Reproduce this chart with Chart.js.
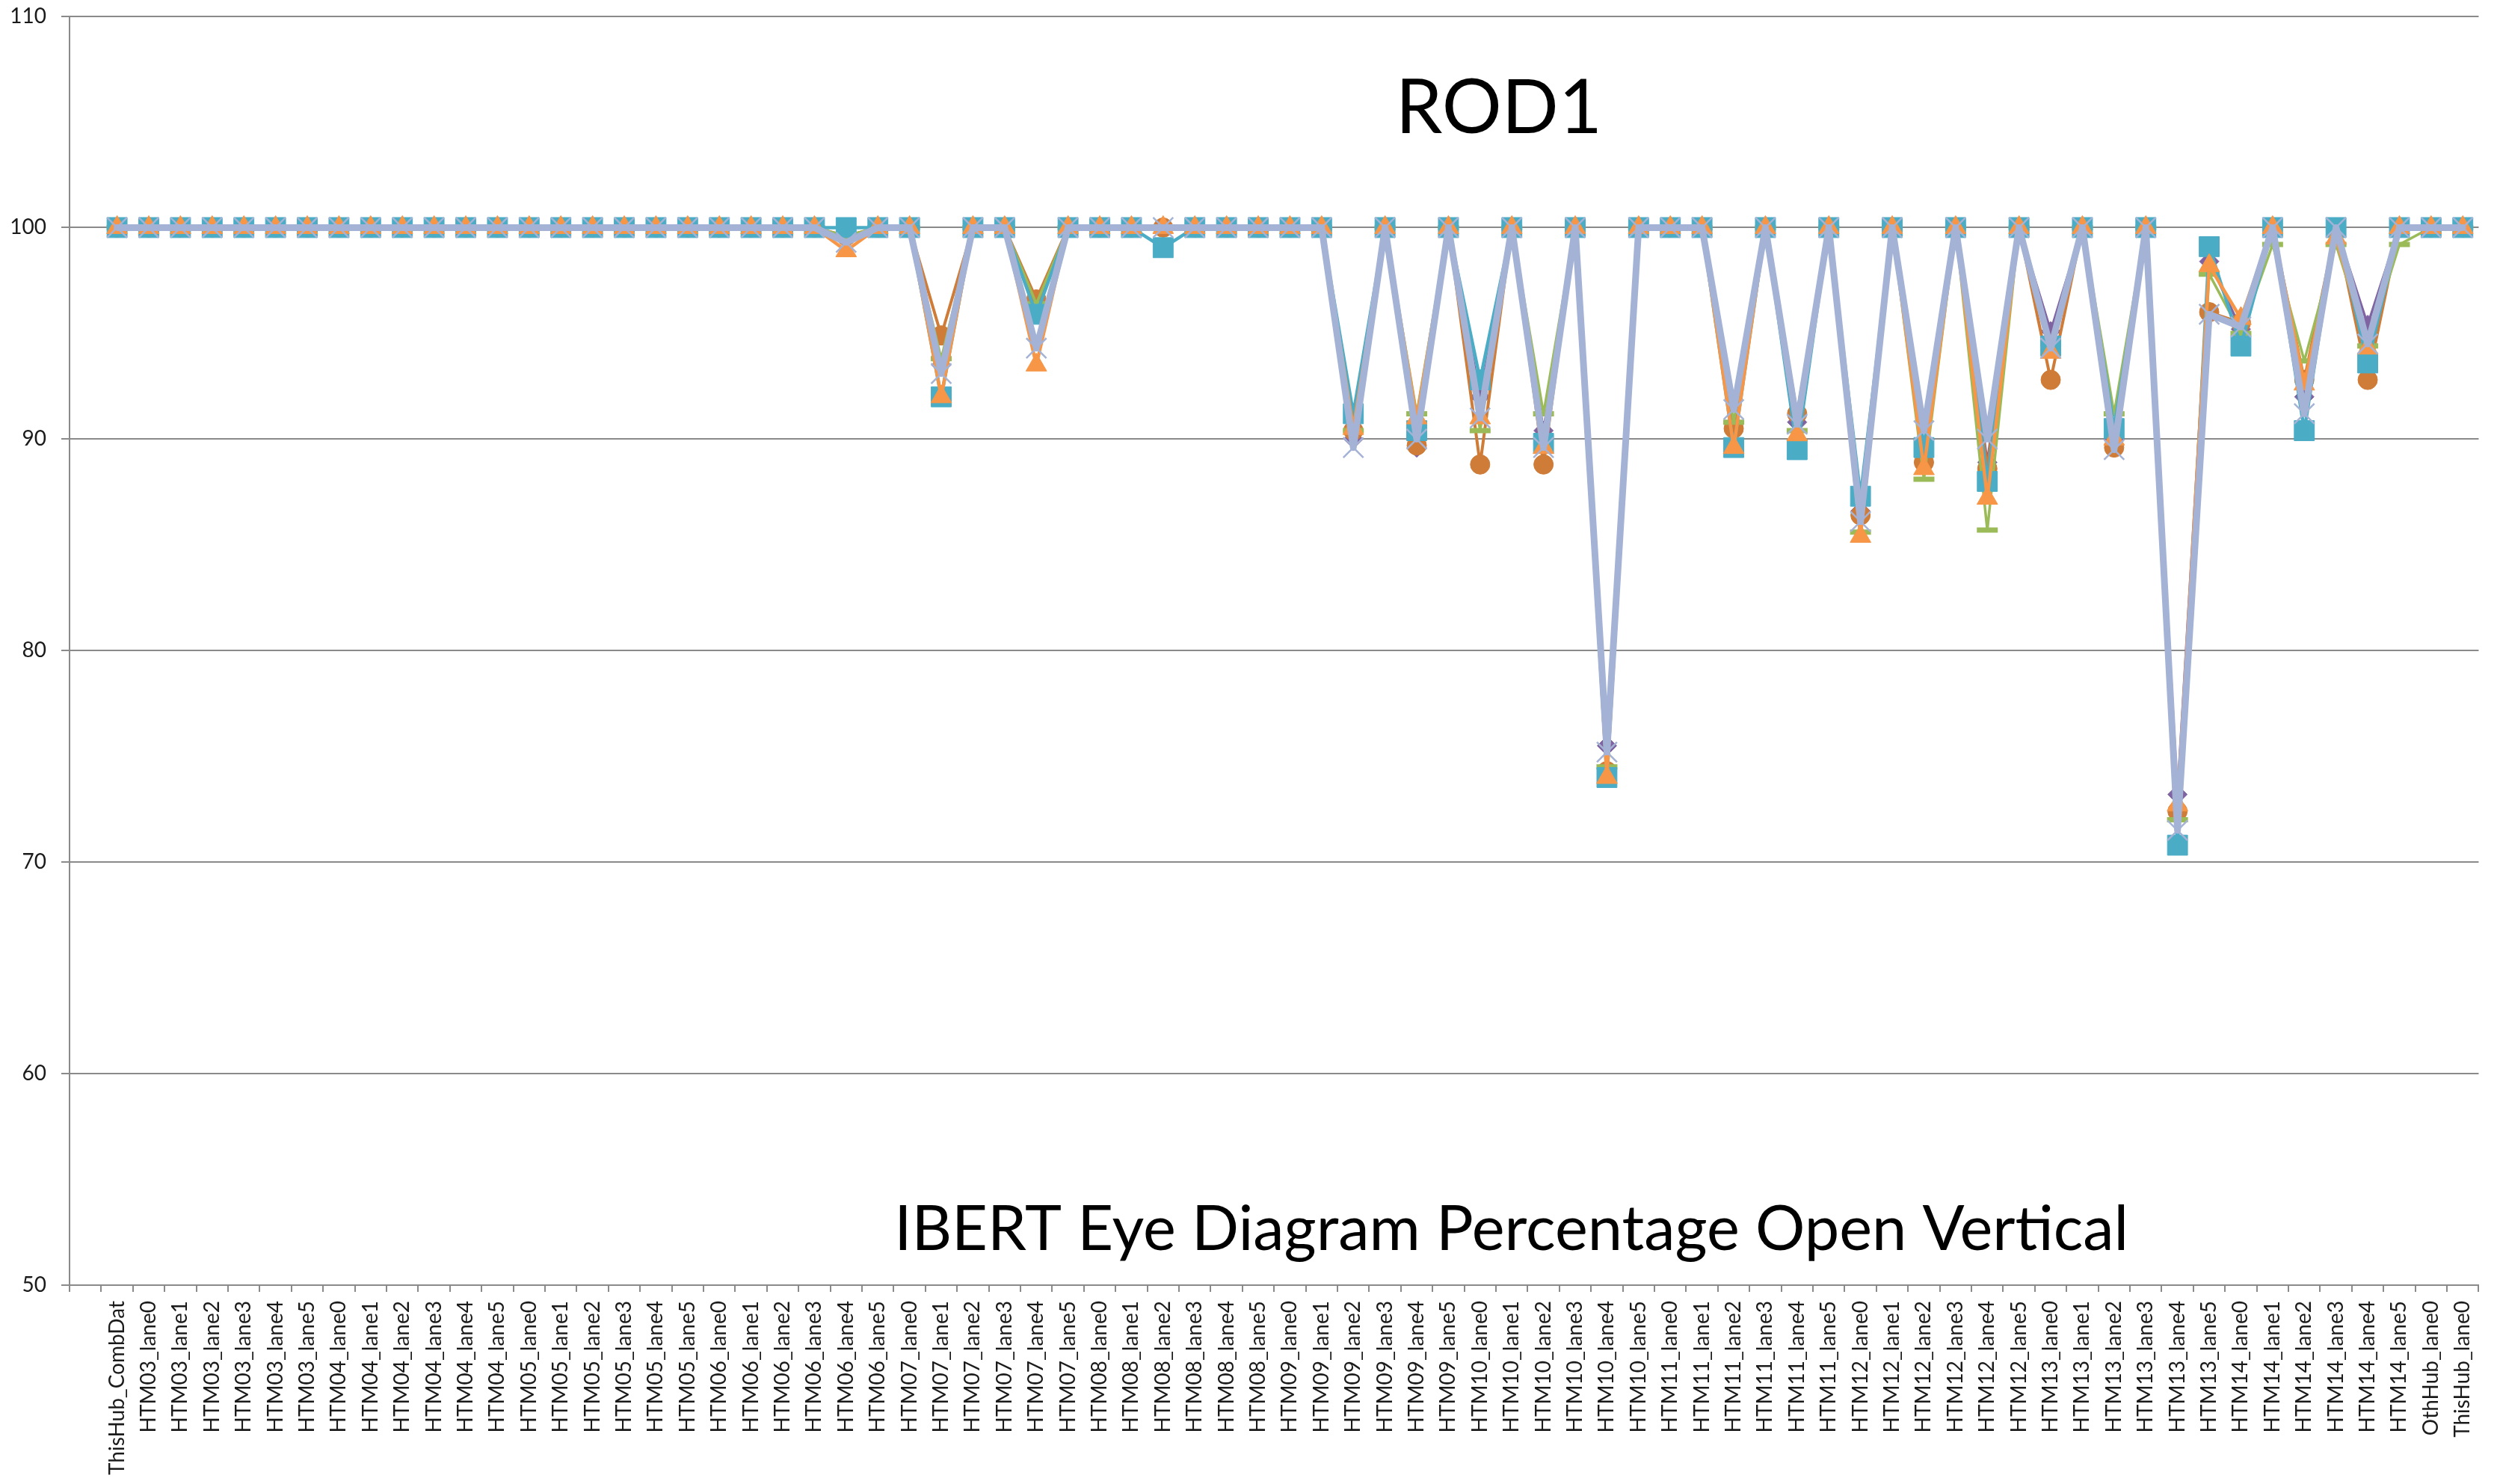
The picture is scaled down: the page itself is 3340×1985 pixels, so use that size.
<!DOCTYPE html>
<html>
<head>
<meta charset="utf-8">
<title>ROD1 - IBERT Eye Diagram Percentage Open Vertical</title>
<script src="https://cdn.jsdelivr.net/npm/chart.js@4.4.0/dist/chart.umd.min.js"></script>
<style>
  html, body { margin: 0; padding: 0; background: #fff; }
  #wrap { width: 3340px; height: 1985px; position: relative; }
</style>
</head>
<body>
<div id="wrap"><canvas id="eyeChart"></canvas></div>
<script>
const chartTitle = "ROD1";
const plotNote = "IBERT Eye Diagram Percentage Open Vertical";

// first category is an empty row in the sheet
const categories = [
  "", "ThisHub_CombDat",
  "HTM03_lane0", "HTM03_lane1", "HTM03_lane2", "HTM03_lane3", "HTM03_lane4", "HTM03_lane5",
  "HTM04_lane0", "HTM04_lane1", "HTM04_lane2", "HTM04_lane3", "HTM04_lane4", "HTM04_lane5",
  "HTM05_lane0", "HTM05_lane1", "HTM05_lane2", "HTM05_lane3", "HTM05_lane4", "HTM05_lane5",
  "HTM06_lane0", "HTM06_lane1", "HTM06_lane2", "HTM06_lane3", "HTM06_lane4", "HTM06_lane5",
  "HTM07_lane0", "HTM07_lane1", "HTM07_lane2", "HTM07_lane3", "HTM07_lane4", "HTM07_lane5",
  "HTM08_lane0", "HTM08_lane1", "HTM08_lane2", "HTM08_lane3", "HTM08_lane4", "HTM08_lane5",
  "HTM09_lane0", "HTM09_lane1", "HTM09_lane2", "HTM09_lane3", "HTM09_lane4", "HTM09_lane5",
  "HTM10_lane0", "HTM10_lane1", "HTM10_lane2", "HTM10_lane3", "HTM10_lane4", "HTM10_lane5",
  "HTM11_lane0", "HTM11_lane1", "HTM11_lane2", "HTM11_lane3", "HTM11_lane4", "HTM11_lane5",
  "HTM12_lane0", "HTM12_lane1", "HTM12_lane2", "HTM12_lane3", "HTM12_lane4", "HTM12_lane5",
  "HTM13_lane0", "HTM13_lane1", "HTM13_lane2", "HTM13_lane3", "HTM13_lane4", "HTM13_lane5",
  "HTM14_lane0", "HTM14_lane1", "HTM14_lane2", "HTM14_lane3", "HTM14_lane4", "HTM14_lane5",
  "OthHub_lane0", "ThisHub_lane0"
];

const yTicks = { min: 50, max: 110, step: 10 };

// one row per HTM board (lane0..lane5)
const eyeBlue = [
  null, 100,
  100, 100, 100, 100, 100, 100,
  100, 100, 100, 100, 100, 100,
  100, 100, 100, 100, 100, 100,
  100, 100, 100, 100, 99.3, 100,
  100, 93.1, 100, 100, 94.3, 100,
  100, 100, 100, 100, 100, 100,
  100, 100, 89.6, 100, 90.0, 100,
  91.0, 100, 89.6, 100, 75.2, 100,
  100, 100, 91.4, 100, 90.7, 100,
  86.1, 100, 90.4, 100, 90.0, 100,
  94.3, 100, 89.5, 100, 71.5, 95.9,
  95.3, 100, 91.2, 100, 94.5, 100,
  100, 100
];

const eyeOrange = [
  null, 100,
  100, 100, 100, 100, 100, 100,
  100, 100, 100, 100, 100, 100,
  100, 100, 100, 100, 100, 100,
  100, 100, 100, 100, 98.9, 100,
  100, 92.0, 100, 100, 93.5, 100,
  100, 100, 100, 100, 100, 100,
  100, 100, 90.5, 100, 91.0, 100,
  91.0, 100, 89.6, 100, 74.0, 100,
  100, 100, 89.6, 100, 90.2, 100,
  85.4, 100, 88.6, 100, 87.2, 100,
  94.1, 100, 90.0, 100, 72.7, 98.2,
  95.7, 100, 92.6, 99.5, 94.3, 100,
  100, 100
];

const eyeTeal = [
  null, 100,
  100, 100, 100, 100, 100, 100,
  100, 100, 100, 100, 100, 100,
  100, 100, 100, 100, 100, 100,
  100, 100, 100, 100, 100, 100,
  100, 92.0, 100, 100, 95.9, 100,
  100, 100, 99.05, 100, 100, 100,
  100, 100, 91.2, 100, 90.4, 100,
  92.8, 100, 89.8, 100, 74.0, 100,
  100, 100, 89.6, 100, 89.5, 100,
  87.3, 100, 89.6, 100, 88.0, 100,
  94.4, 100, 90.5, 100, 70.8, 99.1,
  94.4, 100, 90.4, 100, 93.6, 100,
  100, 100
];

const eyeGreen = [
  null, 100,
  100, 100, 100, 100, 100, 100,
  100, 100, 100, 100, 100, 100,
  100, 100, 100, 100, 100, 100,
  100, 100, 100, 100, 99.6, 100,
  100, 93.8, 100, 100, 96.4, 100,
  100, 100, 100, 100, 100, 100,
  100, 100, 90.4, 100, 91.2, 100,
  90.4, 100, 91.2, 100, 74.5, 100,
  100, 100, 90.8, 100, 90.4, 100,
  85.6, 100, 88.1, 100, 85.7, 100,
  94.5, 100, 91.2, 100, 72.0, 97.8,
  95.0, 99.2, 93.7, 99.2, 94.4, 99.2,
  100, 100
];

const eyeBrown = [
  null, 100,
  100, 100, 100, 100, 100, 100,
  100, 100, 100, 100, 100, 100,
  100, 100, 100, 100, 100, 100,
  100, 100, 100, 100, 99.6, 100,
  100, 94.9, 100, 100, 96.6, 100,
  100, 100, 100, 100, 100, 100,
  100, 100, 90.4, 100, 89.7, 100,
  88.8, 100, 88.8, 100, 74.3, 100,
  100, 100, 90.5, 100, 91.2, 100,
  86.4, 100, 88.9, 100, 88.6, 100,
  92.8, 100, 89.6, 100, 72.4, 96.0,
  95.5, 100, 92.8, 100, 92.8, 100,
  100, 100
];

const eyePurple = [
  null, 100,
  100, 100, 100, 100, 100, 100,
  100, 100, 100, 100, 100, 100,
  100, 100, 100, 100, 100, 100,
  100, 100, 100, 100, 99.5, 100,
  100, 93.5, 100, 100, 96.2, 100,
  100, 100, 100, 100, 100, 100,
  100, 100, 90.0, 100, 89.6, 100,
  92.0, 100, 90.4, 100, 75.5, 100,
  100, 100, 90.4, 100, 90.8, 100,
  86.6, 100, 88.9, 100, 88.9, 100,
  95.1, 100, 90.0, 100, 73.2, 98.4,
  95.2, 100, 92.0, 100, 95.4, 100,
  100, 100
];

const axisGray = "#8a8a8a";
const tickFont = { family: "Lato", size: 28 };

// draws the two text boxes that sit inside the plot area
const overlayText = {
  id: "overlayText",
  afterDatasetsDraw(chart) {
    const { ctx, chartArea } = chart;
    ctx.save();
    ctx.fillStyle = "#000";
    ctx.textAlign = "center";
    ctx.textBaseline = "alphabetic";
    ctx.font = "100px Lato";
    ctx.fillText(chartTitle, chartArea.left + chartArea.width * 0.5933, chartArea.top + 156);
    ctx.font = "83px Lato";
    ctx.fillText(plotNote, chartArea.left + chartArea.width * 0.5985, chartArea.bottom - 47);
    ctx.restore();
  }
};

const ctx = document.getElementById("eyeChart").getContext("2d");

// first dataset ends up on top
new Chart(ctx, {
  type: "line",
  data: {
    labels: categories,
    datasets: [
      {
        label: "Series 6",
        data: eyeBlue,
        borderColor: "#a4b3d5",
        borderWidth: 9,
        pointStyle: "crossRot",
        pointRadius: 19,
        pointBorderWidth: 2.5,
        pointBorderColor: "#a4b3d5",
        pointBackgroundColor: "#a4b3d5"
      },
      {
        label: "Series 5",
        data: eyeOrange,
        borderColor: "#f79646",
        borderWidth: 4.5,
        pointStyle: "triangle",
        pointRadius: 16,
        pointBorderWidth: 1,
        pointBorderColor: "#f79646",
        pointBackgroundColor: "#f79646"
      },
      {
        label: "Series 4",
        data: eyeTeal,
        borderColor: "#4bacc6",
        borderWidth: 4.5,
        pointStyle: "rect",
        pointRadius: 19,
        pointBorderWidth: 1,
        pointBorderColor: "#4bacc6",
        pointBackgroundColor: "#4bacc6"
      },
      {
        label: "Series 3",
        data: eyeGreen,
        borderColor: "#9bbb59",
        borderWidth: 3.5,
        pointStyle: "line",
        pointRadius: 14,
        pointBorderWidth: 7,
        pointBorderColor: "#9bbb59",
        pointBackgroundColor: "#9bbb59"
      },
      {
        label: "Series 2",
        data: eyeBrown,
        borderColor: "#cf7c38",
        borderWidth: 4,
        pointStyle: "circle",
        pointRadius: 13,
        pointBorderWidth: 1,
        pointBorderColor: "#cf7c38",
        pointBackgroundColor: "#cf7c38"
      },
      {
        label: "Series 1",
        data: eyePurple,
        borderColor: "#8064a2",
        borderWidth: 3.5,
        pointStyle: "rectRot",
        pointRadius: 13,
        pointBorderWidth: 1,
        pointBorderColor: "#8064a2",
        pointBackgroundColor: "#8064a2"
      }
    ]
  },
  options: {
    responsive: true,
    maintainAspectRatio: false,
    animation: false,
    devicePixelRatio: 1,
    layout: { padding: { top: 18, right: 3, left: 0, bottom: 0 } },
    plugins: {
      legend: { display: false },
      title: { display: false },
      tooltip: { enabled: false }
    },
    elements: {
      line: { tension: 0, borderJoinStyle: "round", borderCapStyle: "round" }
    },
    scales: {
      x: {
        offset: true,
        ticks: {
          autoSkip: false,
          minRotation: 90,
          maxRotation: 90,
          font: tickFont,
          color: "#1a1a1a",
          padding: 12
        },
        grid: {
          offset: true,
          drawOnChartArea: false,
          tickLength: 9,
          color: axisGray,
          lineWidth: 2
        },
        border: { color: axisGray, width: 2 },
        afterFit(scale) { scale.height = 266; }
      },
      y: {
        min: yTicks.min,
        max: yTicks.max,
        ticks: {
          stepSize: yTicks.step,
          font: tickFont,
          color: "#1a1a1a",
          padding: 20
        },
        grid: { color: axisGray, lineWidth: 2, tickLength: 11 },
        border: { color: axisGray, width: 2 },
        afterFit(scale) {
          scale.width = 93;
          // let the "110" label sit in the top margin like the sheet does
          scale.paddingTop = 0;
        }
      }
    }
  },
  plugins: [overlayText]
});
</script>
</body>
</html>
